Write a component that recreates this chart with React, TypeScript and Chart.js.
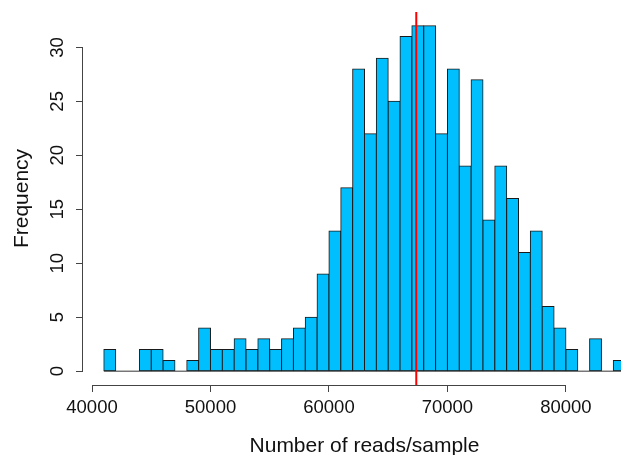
import React, { useEffect, useRef } from "react";
import { Chart, registerables } from "chart.js";

Chart.register(...registerables);

// Histogram bins (width 1000) starting at 41000
const BIN_START = 41000;
const BIN_WIDTH = 1000;
const COUNTS = [
  2, 0, 0, 2, 2, 1, 0, 1, 4, 2,
  2, 3, 2, 3, 2, 3, 4, 5, 9, 13,
  17, 28, 22, 29, 25, 31, 32, 32, 22, 28,
  19, 27, 14, 19, 16, 11, 13, 6, 4, 2,
  0, 3, 0, 1,
];
const MEAN_LINE = 67370;
const X_TICKS = [40000, 50000, 60000, 70000, 80000];
const Y_TICKS = [0, 5, 10, 15, 20, 25, 30];
const X_LABEL = "Number of reads/sample";
const Y_LABEL = "Frequency";
const X_MIN = 39240;
const X_MAX = 86760;
const Y_MIN = -1.28;
const Y_MAX = 33.28;

const FONT = "'Liberation Sans', Arial, Helvetica, sans-serif";
const AXIS_COLOR = "#444";

export default function App() {
  const ref = useRef<HTMLCanvasElement | null>(null);

  useEffect(() => {
    if (!ref.current) return;
    const barData = COUNTS.map((c, i) => ({ x: BIN_START + i * BIN_WIDTH + BIN_WIDTH / 2, y: c }));
    const baseEnd = BIN_START + COUNTS.length * BIN_WIDTH;

    const axisLines = {
      id: "axisLines",
      afterDraw(chart: any) {
        const { ctx, chartArea, scales } = chart;
        const xs = scales.x;
        const ys = scales.y;
        ctx.save();
        ctx.strokeStyle = AXIS_COLOR;
        ctx.lineWidth = 1;
        ctx.beginPath();
        const yb = Math.round(chartArea.bottom) + 0.5;
        ctx.moveTo(xs.getPixelForValue(X_TICKS[0]), yb);
        ctx.lineTo(xs.getPixelForValue(X_TICKS[X_TICKS.length - 1]), yb);
        const xl = Math.round(chartArea.left) - 0.5;
        ctx.moveTo(xl, ys.getPixelForValue(Y_TICKS[0]));
        ctx.lineTo(xl, ys.getPixelForValue(Y_TICKS[Y_TICKS.length - 1]));
        ctx.stroke();
        ctx.restore();
      },
    };

    const chart = new Chart(ref.current, {
      type: "bar",
      data: {
        datasets: [
          {
            type: "line",
            data: [
              { x: MEAN_LINE, y: Y_MIN },
              { x: MEAN_LINE, y: Y_MAX },
            ],
            borderColor: "#ff0000",
            borderWidth: 2,
            pointRadius: 0,
            order: 0,
          } as any,
          {
            type: "line",
            data: [
              { x: BIN_START, y: 0 },
              { x: baseEnd, y: 0 },
            ],
            borderColor: "#333",
            borderWidth: 1,
            pointRadius: 0,
            order: 1,
          } as any,
          {
            type: "bar",
            data: barData,
            backgroundColor: "#00BFFF",
            borderColor: "#1a1a1a",
            borderWidth: 1,
            borderSkipped: false,
            inflateAmount: 0.5,
            barPercentage: 1,
            categoryPercentage: 1,
            order: 2,
          } as any,
        ],
      },
      options: {
        animation: false,
        responsive: false,
        devicePixelRatio: 1,
        layout: { padding: { top: 12, right: 14, left: 0, bottom: 0 } },
        plugins: { legend: { display: false }, tooltip: { enabled: false } },
        scales: {
          x: {
            type: "linear",
            min: X_MIN,
            max: X_MAX,
            offset: false,
            afterBuildTicks: (s: any) => {
              s.ticks = X_TICKS.map((v) => ({ value: v }));
            },
            afterFit: (s: any) => {
              s.height = 70;
              s.paddingLeft = 0;
              s.paddingRight = 0;
            },
            grid: {
              offset: false,
              drawOnChartArea: false,
              drawTicks: true,
              tickLength: 7,
              color: AXIS_COLOR,
            },
            border: { display: false },
            ticks: {
              padding: 5,
              maxRotation: 0,
              autoSkip: false,
              color: "#111",
              font: { family: FONT, size: 18.5 },
              callback: (v: any) => String(v),
            },
            title: {
              display: true,
              text: X_LABEL,
              color: "#111",
              font: { family: FONT, size: 21, lineHeight: 0.86 },
              padding: { top: 0, bottom: 0 },
            },
          },
          y: {
            type: "linear",
            min: Y_MIN,
            max: Y_MAX,
            afterBuildTicks: (s: any) => {
              s.ticks = Y_TICKS.map((v) => ({ value: v }));
            },
            afterFit: (s: any) => {
              s.width = 83;
              s.paddingTop = 0;
              s.paddingBottom = 0;
            },
            grid: {
              drawOnChartArea: false,
              drawTicks: true,
              tickLength: 7,
              color: AXIS_COLOR,
            },
            border: { display: false },
            ticks: {
              padding: 8,
              minRotation: 90,
              maxRotation: 90,
              crossAlign: "center",
              autoSkip: false,
              color: "#111",
              font: { family: FONT, size: 18.5 },
              callback: (v: any) => String(v),
            },
            title: {
              display: true,
              text: Y_LABEL,
              color: "#111",
              font: { family: FONT, size: 21, lineHeight: 1.2 },
              padding: { top: 10, bottom: 0 },
            },
          },
        },
      },
      plugins: [axisLines],
    });
    return () => chart.destroy();
  }, []);

  return (
    <div
      style={{
        position: "absolute",
        left: 0,
        top: 0,
        width: 621,
        height: 455,
        overflow: "hidden",
        background: "#fff",
      }}
    >
      <canvas ref={ref} width={660} height={455} style={{ display: "block" }} />
    </div>
  );
}
